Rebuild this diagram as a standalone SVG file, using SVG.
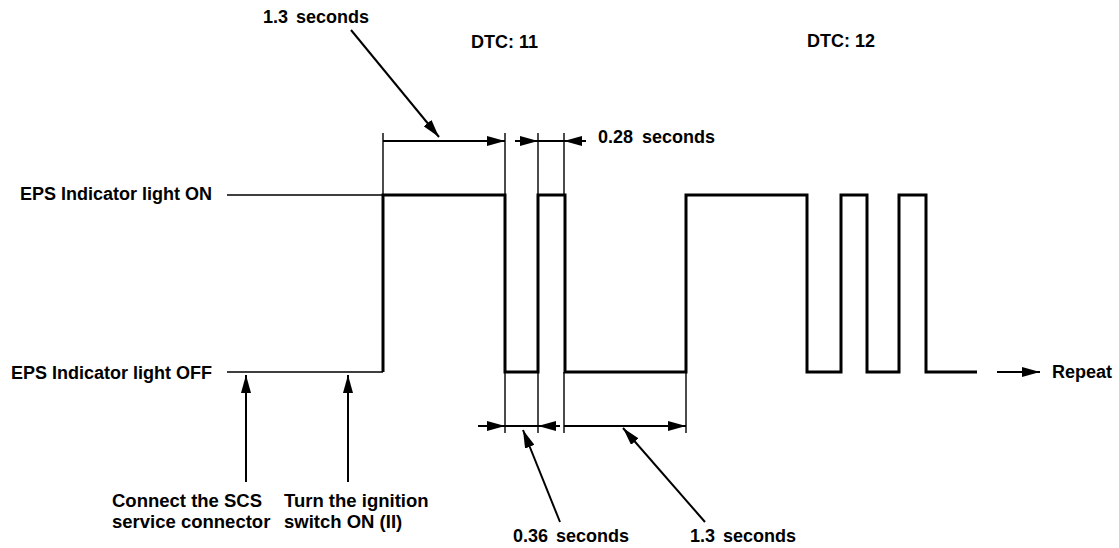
<svg xmlns="http://www.w3.org/2000/svg" width="1119" height="548" viewBox="0 0 1119 548">
<style>
text{font-family:"Liberation Sans",Arial,sans-serif;font-weight:bold;font-size:18px;fill:#000}
.big{font-size:18.5px}
.wave{fill:none;stroke:#000;stroke-width:3;stroke-linejoin:miter}
.thin{fill:none;stroke:#000;stroke-width:1.4}
.lead{fill:none;stroke:#000;stroke-width:2}
.ah{fill:#000}
</style>
<defs>
<marker id="arr" viewBox="0 0 18 10" refX="18" refY="5" markerWidth="18" markerHeight="10" markerUnits="userSpaceOnUse" orient="auto-start-reverse">
<path d="M0,0 L18,5 L0,10 Z" class="ah"/>
</marker>
</defs>
<rect width="1119" height="548" fill="#fff"/>
<g id="labels">
<text x="212" y="200" text-anchor="end">EPS Indicator light ON</text>
<text x="212" y="379" text-anchor="end">EPS Indicator light OFF</text>
<text x="369" y="23" text-anchor="end" word-spacing="3">1.3 seconds</text>
<text x="471" y="48">DTC: 11</text>
<text x="807" y="47">DTC: 12</text>
<text x="598" y="143" word-spacing="4">0.28 seconds</text>
<text x="1052" y="378">Repeat</text>
<text x="513" y="542" word-spacing="3">0.36 seconds</text>
<text x="690" y="542" word-spacing="3">1.3 seconds</text>
<text class="big" x="112" y="507">Connect the SCS</text>
<text class="big" x="112" y="528">service connector</text>
<text class="big" x="284" y="507">Turn the ignition</text>
<text class="big" x="284" y="528">switch ON (II)</text>
</g>
<g id="signal">
<path class="thin" d="M227,195 H383 M227,372 H383"/>
<path class="wave" d="M383,372 V195 H505 V372 H538 V195 H565 V372 H686 V195 H807 V372 H841 V195 H867 V372 H899 V195 H926 V372 H977"/>
</g>
<g id="connectors">
<path class="thin" d="M383,133 V195 M505,133 V195 M538,133 V195 M564,133 V195 M505,372 V433 M538,372 V433 M564,372 V433 M686,372 V433"/>
<path class="lead" d="M444,141 H383 M444,141 H505" marker-end="url(#arr)"/>
<path class="lead" d="M515,141 H538" marker-end="url(#arr)"/>
<path class="lead" d="M538,141 H564"/>
<path class="lead" d="M586,141 H564" marker-end="url(#arr)"/>
<path class="lead" d="M478,426 H505" marker-end="url(#arr)"/>
<path class="lead" d="M505,426 H538"/>
<path class="lead" d="M560,426 H538" marker-end="url(#arr)"/>
<path class="lead" d="M625,426 H564 M625,426 H686" marker-end="url(#arr)"/>
<path class="lead" d="M351,30 L439,137" marker-end="url(#arr)"/>
<path class="lead" d="M560,522 L523,430" marker-end="url(#arr)"/>
<path class="lead" d="M705,522 L623,428" marker-end="url(#arr)"/>
<path class="lead" d="M246,482 V375" marker-end="url(#arr)"/>
<path class="lead" d="M348,482 V375" marker-end="url(#arr)"/>
<path class="lead" d="M997,372 H1040" marker-end="url(#arr)"/>
</g>
</svg>
